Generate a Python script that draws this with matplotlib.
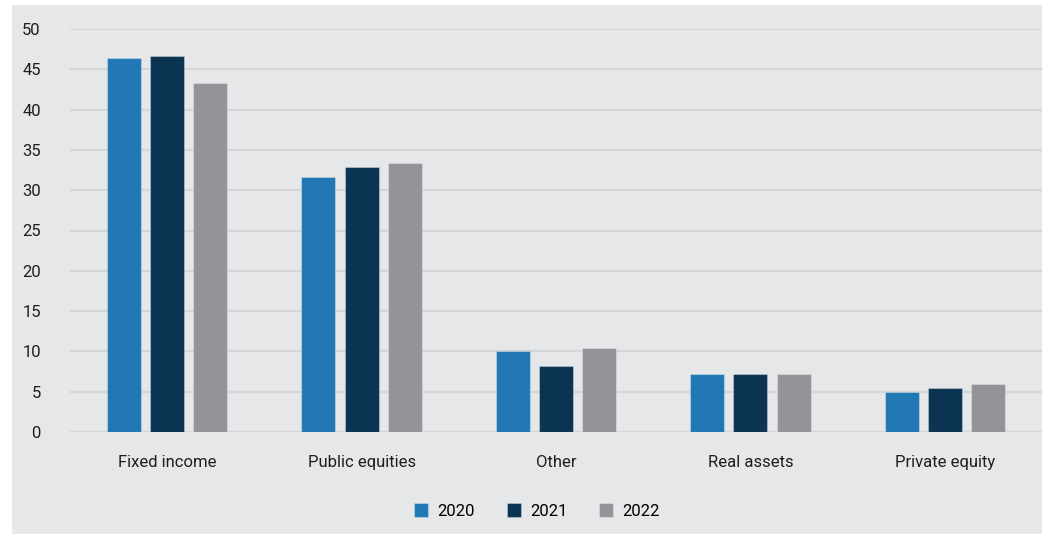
import matplotlib
matplotlib.use("Agg")
import matplotlib.pyplot as plt
import numpy as np
from matplotlib.patches import Rectangle

categories = ["Fixed income", "Public equities", "Other", "Real assets", "Private equity"]
years = ["2020", "2021", "2022"]
values_2020 = [46.4, 31.6, 10.1, 7.2, 5.0]
values_2021 = [46.6, 32.9, 8.2, 7.2, 5.4]
values_2022 = [43.3, 33.4, 10.4, 7.2, 5.9]
y_ticks = [0, 5, 10, 15, 20, 25, 30, 35, 40, 45, 50]

colors = ["#2178b4", "#0b3452", "#929497"]
panel_color = "#e6e7e9"
grid_color = "#d4d5d7"

plt.rcParams["font.family"] = ["Roboto", "DejaVu Sans"]

fig = plt.figure(figsize=(10.42, 5.34), dpi=100, facecolor="white")
fig.patches.append(Rectangle((12 / 1042, 0), 1 - 12 / 1042, 529 / 534,
                             transform=fig.transFigure, facecolor=panel_color,
                             edgecolor="none", zorder=-10))

ax = fig.add_axes([70 / 1042, 102 / 534, 972 / 1042, 403 / 534])
ax.set_facecolor("none")

x = np.arange(len(categories))
width = 0.175
step = 0.222
series = [values_2020, values_2021, values_2022]
for i, (vals, col, yr) in enumerate(zip(series, colors, years)):
    ax.bar(x + (i - 1) * step, vals, width=width, color=col, label=yr,
           edgecolor=(1, 1, 1, 0.3), linewidth=0.8, zorder=3)

ax.set_xlim(-0.5, len(categories) - 0.5)
ax.set_ylim(0, 50)
ax.set_yticks(y_ticks)
ax.set_yticklabels([str(t) for t in y_ticks])
ax.yaxis.grid(True, color=grid_color, linewidth=1.6, zorder=0)
ax.set_axisbelow(True)
for s in ax.spines.values():
    s.set_visible(False)
ax.axhline(0, color=grid_color, linewidth=2.0, zorder=1)

ax.set_xticks(x)
ax.set_xticklabels(categories)
ax.tick_params(axis="both", length=0, labelsize=12, labelcolor="#1e1e1e")
ax.tick_params(axis="y", pad=21)
ax.tick_params(axis="x", pad=16.5)

fig.legend(loc="center", bbox_to_anchor=(537 / 1042, 23 / 534), ncol=3,
           frameon=False, fontsize=12, handlelength=0.85, handleheight=0.85,
           handletextpad=0.55, columnspacing=1.9)

fig.savefig("out.png", dpi=100, facecolor="white")
